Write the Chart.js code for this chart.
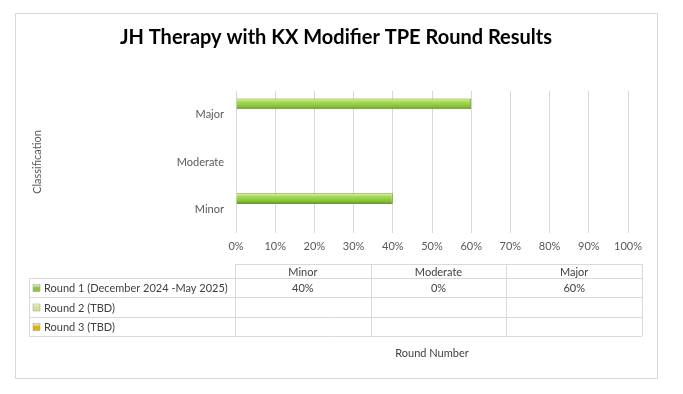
<!DOCTYPE html>
<html>
<head>
<meta charset="utf-8">
<script src="https://cdn.jsdelivr.net/npm/chart.js@4/dist/chart.umd.min.js"></script>
<style>
  html, body { margin: 0; padding: 0; background: #fff; }
  #wrap { width: 683px; height: 394px; }
</style>
</head>
<body>
<div id="wrap"><canvas id="therapy-chart"></canvas></div>
<script>
const categories = ['Minor', 'Moderate', 'Major']
const seriesNames = ['Round 1 (December 2024 -May 2025)', 'Round 2 (TBD)', 'Round 3 (TBD)']
const round1 = [40, 0, 60]
const round2 = [null, null, null]
const round3 = [null, null, null]
const xTicks = [0, 10, 20, 30, 40, 50, 60, 70, 80, 90, 100]
const seriesColors = ['#8cc63f', '#d9df8e', '#d8b50c']

const FONT = 'Lato, "Open Sans", sans-serif'
const CAT_PCT = 0.68

// lime bars with a light top edge, like the excel bevel
function barGradient(ctx) {
    const chart = ctx.chart
    const area = chart.chartArea
    if (!area || ctx.type !== 'data') return seriesColors[ctx.datasetIndex]
    const yScale = chart.scales.y
    const band = (area.bottom - area.top) / categories.length
    const group = band * CAT_PCT
    const barH = group / 3
    const center = yScale.getPixelForValue(ctx.dataIndex)
    const top = center - group / 2 + ctx.datasetIndex * barH
    const g = chart.ctx.createLinearGradient(0, top, 0, top + barH)
    if (ctx.datasetIndex === 0) {
        g.addColorStop(0, '#e2f7a8')
        g.addColorStop(0.3, '#a8da55')
        g.addColorStop(0.75, '#86c03a')
        g.addColorStop(1, '#5f8f22')
    } else {
        g.addColorStop(0, seriesColors[ctx.datasetIndex])
        g.addColorStop(1, seriesColors[ctx.datasetIndex])
    }
    return g
}

const dataTable = {
    id: 'dataTable',
    afterDraw(chart) {
        const c = chart.ctx
        const area = chart.chartArea
        const left = 29
        const colStart = area.left - 1
        const right = area.right + 14
        const colW = (right - colStart) / categories.length
        const rows = [264, 278, 297, 317, 336]
        const rowData = [round1, round2, round3]

        c.save()
        // outer frame
        c.strokeStyle = '#d9d9d9'
        c.lineWidth = 1
        c.strokeRect(15.5, 13.5, 642, 365)

        c.beginPath()
        c.moveTo(colStart, rows[0] + 0.5)
        c.lineTo(right, rows[0] + 0.5)
        for (let i = 1; i < rows.length; i++) {
            c.moveTo(left, rows[i] + 0.5)
            c.lineTo(right, rows[i] + 0.5)
        }
        c.moveTo(left + 0.5, rows[1])
        c.lineTo(left + 0.5, rows[4])
        for (let j = 0; j <= categories.length; j++) {
            const x = Math.round(colStart + j * colW) + 0.5
            c.moveTo(x, rows[0])
            c.lineTo(x, rows[4])
        }
        c.stroke()

        c.font = '11px ' + FONT
        c.fillStyle = '#404040'
        c.textBaseline = 'middle'
        c.textAlign = 'center'
        categories.forEach((cat, j) => {
            c.fillText(cat, colStart + j * colW + colW / 2, (rows[0] + rows[1]) / 2 + 1)
        })

        seriesNames.forEach((name, i) => {
            const yMid = (rows[i + 1] + rows[i + 2]) / 2 + 1
            const kg = c.createLinearGradient(0, yMid - 4, 0, yMid + 4)
            kg.addColorStop(0, '#f4f4e0')
            kg.addColorStop(0.4, seriesColors[i])
            kg.addColorStop(1, seriesColors[i])
            c.fillStyle = kg
            c.fillRect(33, yMid - 4, 7, 7)
            c.strokeStyle = '#9a9a9a'
            c.lineWidth = 0.5
            c.strokeRect(33, yMid - 4, 7, 7)
            c.fillStyle = '#404040'
            c.textAlign = 'left'
            c.fillText(name, 44, yMid)
            c.textAlign = 'center'
            rowData[i].forEach((v, j) => {
                if (v === null) return
                c.fillText(v + '%', colStart + j * colW + colW / 2, yMid)
            })
        })

        c.fillText('Round Number', (area.left + area.right) / 2, 353)
        c.restore()
    }
}

new Chart(document.getElementById('therapy-chart'), {
    type: 'bar',
    data: {
        labels: categories,
        datasets: [round1, round2, round3].map((values, i) => ({
            label: seriesNames[i],
            data: values,
            backgroundColor: barGradient,
            borderColor: i === 0 ? '#6a9a2a' : seriesColors[i],
            borderWidth: i === 0 ? 1 : 0,
            categoryPercentage: CAT_PCT,
            barPercentage: 1
        }))
    },
    options: {
        indexAxis: 'y',
        responsive: true,
        maintainAspectRatio: false,
        animation: false,
        layout: { padding: { left: 0, right: 11, top: 0, bottom: 0 } },
        plugins: {
            legend: { display: false },
            tooltip: { enabled: false },
            title: {
                display: true,
                text: 'JH Therapy with KX Modifier TPE Round Results',
                color: '#000',
                font: { family: FONT, size: 20, weight: 'bold' },
                padding: { top: 26, bottom: 41 }
            }
        },
        scales: {
            x: {
                min: 0,
                max: 100,
                afterBuildTicks: axis => { axis.ticks = xTicks.map(v => ({ value: v })) },
                afterFit: axis => { axis.height = 394 - 233 },
                grid: { color: '#d9d9d9', drawTicks: false },
                border: { display: false },
                ticks: {
                    padding: 7,
                    color: '#595959',
                    font: { family: FONT, size: 11 },
                    callback: v => v + '%'
                }
            },
            y: {
                reverse: true,
                afterFit: axis => { axis.width = 236 },
                grid: { display: false, drawTicks: false },
                border: { display: false },
                ticks: {
                    padding: 12,
                    color: '#595959',
                    font: { family: FONT, size: 11 }
                },
                title: {
                    display: true,
                    text: 'Classification',
                    color: '#595959',
                    font: { family: FONT, size: 11 },
                    padding: { top: 31, bottom: 0 }
                }
            },
            // empty spacer on the right so the plot ends where excel's does
            spacer: {
                type: 'linear',
                position: 'right',
                afterFit: axis => { axis.width = 44 },
                grid: { display: false, drawTicks: false },
                border: { display: false },
                ticks: { display: false }
            }
        }
    },
    plugins: [dataTable]
})
</script>
</body>
</html>
